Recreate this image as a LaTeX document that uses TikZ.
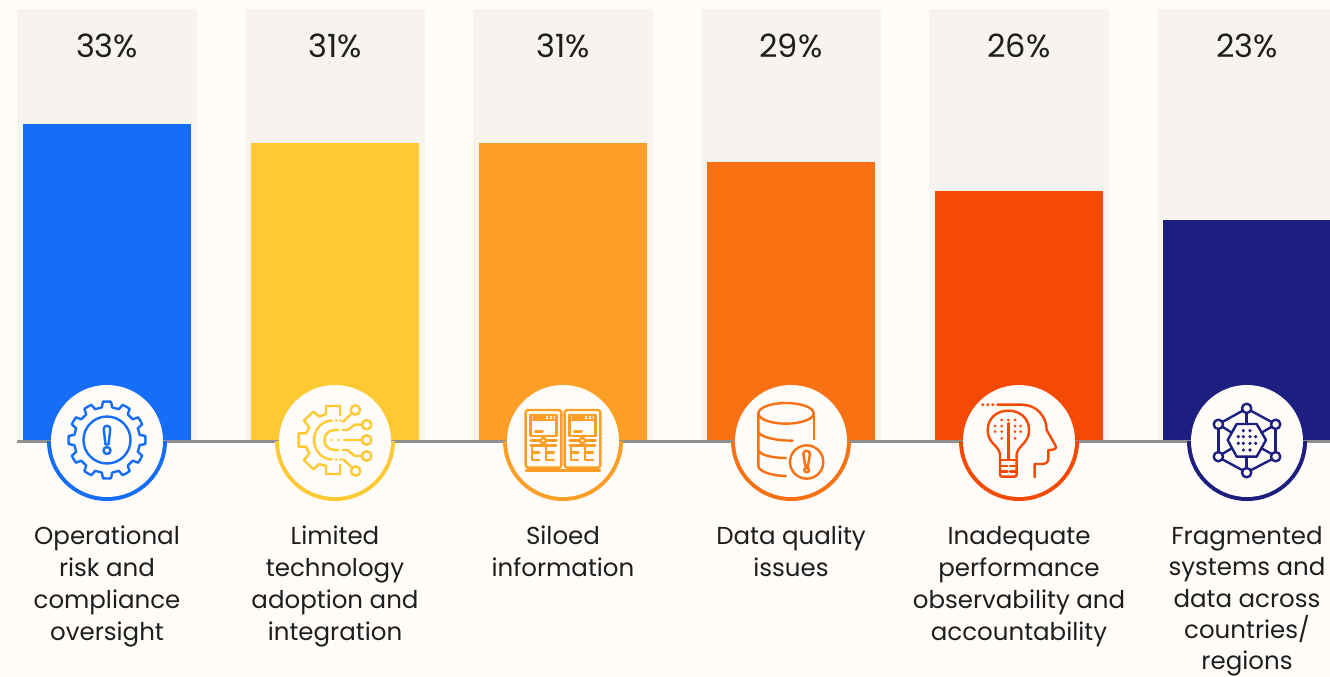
\documentclass[tikz,border=0pt]{standalone}
\usepackage{fontspec}
\setmainfont{Poppins}
\definecolor{bgc}{HTML}{FFFCF9}
\definecolor{panelc}{HTML}{F7F3EF}
\definecolor{cblue}{HTML}{166DF7}
\definecolor{cyel}{HTML}{FFC933}
\definecolor{corg}{HTML}{FD9F26}
\definecolor{cdorg}{HTML}{F87214}
\definecolor{cred}{HTML}{F54A05}
\definecolor{cnavy}{HTML}{1C1E80}
\definecolor{cgray}{HTML}{8F8F8F}
\definecolor{ctext}{HTML}{1E1E1E}
\newcommand{\firstline}{\rule{0pt}{20pt}}
\tikzset{
  panelbox/.style={fill=panelc,draw=none},
  barbox/.style={draw=none},
  pct/.style={text=ctext,font=\fontsize{32}{36}\selectfont,anchor=center,inner sep=0pt},
  lab/.style={text=ctext,font=\fontsize{24.5}{32}\selectfont,align=center,anchor=north,inner sep=0pt,text depth=0pt},
  labtight/.style={lab,font=\fontsize{24.5}{31.4}\selectfont},
  icon/.style={line width=2.4pt,line join=round,line cap=round,fill=none},
  iconz/.style={x=0.33333pt,y=-0.33333pt,shift={(#1)}},
}
\newcommand{\colbar}[5]{% x-left, top, color, pct, name
  \path[panelbox] (#1,9) rectangle (#1+180,441);
  \path[barbox,fill=#3] (#1+6,#2) rectangle (#1+174,441);
  \node[pct] (p#5) at (#1+90,46) {#4};
}
\newcommand{\colbadge}[3]{% center x, color, name
  \fill[#2] (#1-60,441) arc (180:0:60) -- cycle;
  \fill[bgc] (#1,441) circle (56);
  \coordinate (c#3) at (#1,441);
}
\begin{document}
\begin{tikzpicture}[x=1pt,y=-1pt]
\useasboundingbox (0,0) rectangle (1330,677);
\clip (0,0) rectangle (1330,677);
\fill[bgc] (0,0) rectangle (1330,677);
\colbar{17}{124}{cblue}{33\%}{a}
\colbar{245}{143}{cyel}{31\%}{b}
\colbar{473}{143}{corg}{31\%}{c}
\colbar{701}{162}{cdorg}{29\%}{d}
\colbar{929}{191}{cred}{26\%}{e}
\colbar{1157}{220}{cnavy}{23\%}{f}
\draw[cgray,line width=3pt] (17,441.5) -- (1330,441.5);
\colbadge{107}{cblue}{a}
\colbadge{335}{cyel}{b}
\colbadge{563}{corg}{c}
\colbadge{791}{cdorg}{d}
\colbadge{1019}{cred}{e}
\colbadge{1247}{cnavy}{f}
% icon 1: gear with alert
\begin{scope}[icon,draw=cblue,shift={(107pt,-440pt)}]
  \pgfmathsetmacro{\ro}{38.5}\pgfmathsetmacro{\ri}{33}
  \draw (0:\ro)
  \foreach \k in {0,...,11}{
    -- ({\k*30+6}:\ro) -- ({\k*30+9}:\ri) -- ({\k*30+21}:\ri) -- ({\k*30+24}:\ro) -- ({\k*30+36-6}:\ro)
  } -- cycle;
  \draw (0,0) circle (23.5);
  \draw (-3.3,-11) arc (180:360:3.3) -- (1.5,4.5) -- (-1.5,4.5) -- cycle;
  \draw (0,10.5) circle (3.5);
\end{scope}
% icon 2: half gear circuit
\begin{scope}[icon,draw=cyel,iconz={30pt,-380pt}]
  \draw (930,105)--(930,78)--(888,78)--(888,102)--(868,110)--(850,95)--(822,122)--(838,142)--(828,160)--(806,160)--(806,200)--(828,200)--(838,220)--(822,240)--(850,268)--(868,252)--(888,258)--(888,282)--(930,282)--(930,255);
  \draw (905,122) .. controls (875,122) and (852,150) .. (852,180) .. controls (852,210) and (875,238) .. (905,238);
  \draw (925,150)--(915,150) .. controls (897,150) and (883,163) .. (883,180) .. controls (883,197) and (897,210) .. (915,210)--(925,210);
  \draw (918,122)--(919,122) (932,122)--(933,122) (918,238)--(919,238) (932,238)--(933,238);
  \draw (905,180)--(906,180) (923,180)--(925,180);
  \draw (940,125)--(965,100) (940,238)--(965,262);
  \draw (938,150)--(952,150)--(975,134)--(994,134);
  \draw (938,210)--(952,210)--(975,228)--(994,228);
  \draw (942,180)--(996,180);
  \draw (976,90) circle (14*1) (1010,134) circle (14*1) (1010,180) circle (14*1) (1010,228) circle (14*1) (977,273) circle (14*1);
\end{scope}
% icon 3: two servers
\begin{scope}[icon,draw=corg,iconz={490pt,-380pt}]
  \foreach \dx in {0,117}{
    \begin{scope}[xshift=\dx*0.33333pt]
    \draw[rounded corners=2.5pt] (107,90) rectangle (214,263);
    \draw (122,105) rectangle (200,168);
    \draw (122,120)--(200,120);
    \draw (130,113)--(166,113) (176,113)--(178,113) (188,113)--(190,113);
    \draw (136,155)--(158,155);
    \draw (160,182) circle (8*1);
    \draw (122,182)--(150,182) (170,182)--(200,182);
    \draw (122,197)--(198,197);
    \draw (126,197)--(126,240)--(148,240) (126,218)--(148,218);
    \draw (168,197)--(168,240)--(192,240) (168,218)--(192,218);
    \end{scope}
  }
  \draw (108,272)--(330,272);
  \draw (127,264)--(127,271) (191,264)--(191,271) (245,264)--(245,271) (310,264)--(310,271);
\end{scope}
% icon 4: database alert
\begin{scope}[icon,draw=cdorg,iconz={490pt,-380pt}]
  \draw (888,100) ellipse [x radius=83,y radius=31];
  \draw (805,100)--(805,258) .. controls (805,275) and (850,288) .. (888,288);
  \draw (972,100)--(972,178);
  \draw (805,155) .. controls (810,172) and (860,182) .. (908,182);
  \draw (805,210) .. controls (810,226) and (850,234) .. (888,234);
  \draw (950,246) circle (50*1);
  \draw (940,222) arc (180:360:10) -- (954,258) -- (946,258) -- cycle;
  \draw (950,270) circle (7*1);
\end{scope}
% icon 5: head with bulb
\begin{scope}[icon,draw=cred,iconz={950pt,-380pt}]
  \draw (97,74)--(100,74) (112,74)--(115,74) (127,74)--(130,74) (142,74)--(215,74) .. controls (260,74) and (290,110) .. (290,150) -- (317,198) .. controls (320,208) and (310,210) .. (295,210) -- (295,235) .. controls (295,247) and (288,252) .. (275,252) -- (254,252) -- (254,292);
  \draw (150,235) -- (150,222) .. controls (145,195) and (113,190) .. (113,150) .. controls (113,115) and (140,92) .. (175,92) .. controls (210,92) and (237,115) .. (237,150) .. controls (237,190) and (205,195) .. (200,222) -- (200,235);
  \draw (175,130)--(175,240);
  \draw (150,240)--(200,240);
  \draw[rounded corners=2pt] (150,240) -- (150,290) -- (200,290) -- (200,240);
  \draw (150,258)--(172,258) (180,258)--(200,258) (150,274)--(172,274) (180,274)--(200,274);
  \foreach \p in {(155,120),(175,120),(195,120),(135,138),(155,138),(195,138),(212,138),(135,155),(155,155),(195,155),(212,155),(155,175),(195,175)}
    \fill[cred] \p circle (1.5pt);
\end{scope}
% icon 6: network hexagon
\begin{scope}[icon,draw=cnavy,iconz={950pt,-380pt}]
  \draw (833,180)--(860,132)--(920,132)--(948,180)--(920,230)--(860,230)--cycle;
  \draw (890,99)--(890,132) (890,230)--(890,264);
  \draw (878,92)--(817,126) (902,92)--(965,126) (817,238)--(878,271) (965,238)--(902,271);
  \draw (805,147)--(805,216) (977,147)--(977,216);
  \draw (817,140)--(845,158) (965,140)--(935,158) (817,222)--(845,205) (965,222)--(935,205);
  \draw (890,85) circle (14*1) (805,133) circle (14*1) (977,133) circle (14*1) (805,230) circle (14*1) (977,230) circle (14*1) (890,278) circle (14*1);
  \foreach \p in {(880,152),(900,152),(865,170),(880,170),(900,170),(917,170),(865,190),(880,190),(900,190),(917,190),(880,210),(900,210)}
    \fill[cnavy] \p circle (1.8pt);
\end{scope}
% labels
\node[lab] (la) at (107,524) {\firstline Operational\\risk and\\compliance\\oversight};
\node[lab] (lb) at (335,524) {\firstline Limited\\technology\\adoption and\\integration};
\node[lab] (lc) at (563,524) {\firstline Siloed\\information};
\node[lab] (ld) at (791,524) {\firstline Data quality\\issues};
\node[lab] (le) at (1019,524) {\firstline Inadequate\\performance\\observability and\\accountability};
\node[labtight] (lf) at (1247,524) {\firstline Fragmented\\systems and\\data across\\countries/\\regions};
\end{tikzpicture}
\end{document}
